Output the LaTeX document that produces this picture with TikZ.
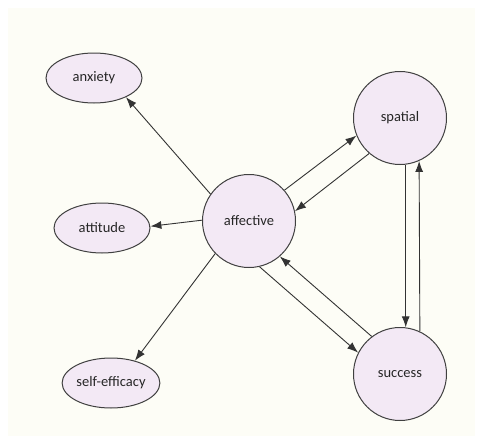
\documentclass[tikz,border=0pt]{standalone}
\usepackage{fontspec}
\setmainfont{Carlito}
\usetikzlibrary{arrows.meta,shapes.geometric}
\definecolor{paper}{RGB}{253,253,246}
\definecolor{lilac}{RGB}{243,233,245}
\definecolor{rim}{RGB}{64,64,64}
\tikzset{
  factor/.style={circle, draw=rim, fill=lilac, line width=1pt, minimum size=93pt, inner sep=0pt},
  item/.style={ellipse, draw=rim, fill=lilac, line width=1pt, minimum width=96pt, minimum height=50pt, inner sep=0pt},
  arr/.style={-{Latex[length=11pt,width=8pt]}, draw=black!80, line width=0.9pt},
}
\begin{document}
\begin{tikzpicture}[x=1pt, y=-1pt, font=\fontsize{14.5}{16}\selectfont, text=black!85]
  % page
  \useasboundingbox (0,0) rectangle (477,439);
  \fill[paper] (8,8) rectangle (475,436);

  % latent factors
  \node[factor] (affective) at (249,221) {affective};
  \node[factor] (spatial) at (400,118) {spatial};
  \node[factor] (success) at (400,374) {success};

  % indicators
  \node[item] (anxiety) at (94,78) {anxiety};
  \node[item] (attitude) at (102,228) {attitude};
  \node[item] (selfeff) at (111,383) {self-efficacy};

  % affective -> indicators
  \draw[arr] (affective.145) -- (anxiety.-31);
  \draw[arr] (affective.179) -- (attitude.2);
  \draw[arr] (affective.-136) -- (selfeff.43);

  % affective <-> spatial
  \draw[arr] (affective.41) -- (spatial.202);
  \draw[arr] (spatial.229) -- (affective.12);

  % affective <-> success
  \draw[arr] (affective.-77) -- (success.153);
  \draw[arr] (success.127) -- (affective.-49);

  % spatial <-> success
  \draw[arr] (spatial.-83) -- (success.83);
  \draw[arr] (success.65) -- (spatial.-66);
\end{tikzpicture}
\end{document}
